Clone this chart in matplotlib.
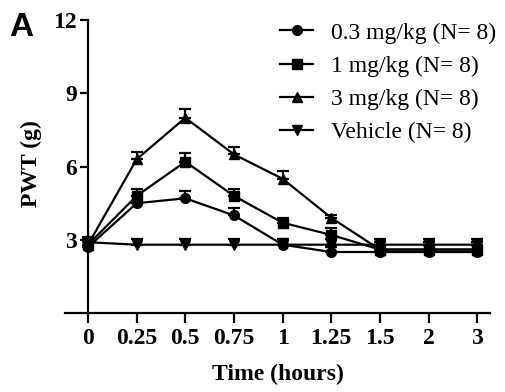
import matplotlib.pyplot as plt
from matplotlib.lines import Line2D
import numpy as np

times = ['0', '0.25', '0.5', '0.75', '1', '1.25', '1.5', '2', '3']
low = [2.7, 4.5, 4.7, 4.0, 2.8, 2.5, 2.5, 2.5, 2.5]
low_err = [0.25, 0.3, 0.3, 0.3, 0.25, 0.2, 0.3, 0.3, 0.3]
mid = [2.8, 4.8, 6.2, 4.8, 3.7, 3.2, 2.6, 2.6, 2.6]
mid_err = [0.25, 0.3, 0.35, 0.3, 0.2, 0.3, 0.3, 0.3, 0.3]
high = [2.8, 6.3, 8.0, 6.5, 5.5, 3.9, 2.6, 2.6, 2.6]
high_err = [0.25, 0.3, 0.35, 0.3, 0.3, 0.1, 0.3, 0.3, 0.3]
vehicle = [2.9, 2.8, 2.8, 2.8, 2.8, 2.8, 2.8, 2.8, 2.8]
vehicle_err = [0.2, 0.25, 0.25, 0.25, 0.25, 0.25, 0.25, 0.25, 0.25]

labels = ['0.3 mg/kg (N= 8)', '1 mg/kg (N= 8)', '3 mg/kg (N= 8)', 'Vehicle (N= 8)']

plt.rcParams['font.family'] = 'Liberation Serif'

fig = plt.figure(figsize=(5.05, 3.92), dpi=100)
ax = fig.add_axes([0.129, 0.2015, 0.842, 0.747])
x = np.arange(len(times))

series = [(low, low_err, 'o'), (mid, mid_err, 's'), (high, high_err, '^'), (vehicle, vehicle_err, 'v')]
handles = []
for (vals, err, m), lab in zip(series, labels):
    ax.errorbar(x, vals, yerr=[np.zeros(len(err)), err], color='black', marker=m,
                markersize=7, linewidth=1.6, elinewidth=1.6, capsize=4, capthick=1.6)
    handles.append(Line2D([], [], color='black', marker=m, markersize=7, linewidth=1.6, label=lab))

ax.set_xlim(-0.47, 8.27)
ax.set_ylim(0, 12)
ax.spines['left'].set_position(('data', 0))
ax.spines['right'].set_visible(False)
ax.spines['top'].set_visible(False)
ax.spines['left'].set_linewidth(1.6)
ax.spines['bottom'].set_linewidth(1.6)
ax.set_xticks(x)
ax.set_xticklabels(times, fontweight='bold', fontsize=17)
ax.set_yticks([3, 6, 9, 12])
ax.set_yticklabels(['3', '6', '9', '12'], fontweight='bold', fontsize=17)
ax.tick_params(axis='x', width=1.6, length=7, pad=3.5)
ax.tick_params(axis='y', width=1.6, length=6, pad=2)

ax.set_xlabel('Time (hours)', fontweight='bold', fontsize=17, labelpad=11)
ax.set_ylabel('PWT (g)', fontweight='bold', fontsize=17)
ax.yaxis.set_label_coords(-0.055, 0.509)

fig.legend(handles=handles, loc='upper left', bbox_to_anchor=(280 / 505, 1 - 22 / 392),
           frameon=False, fontsize=17, handlelength=1.4, labelspacing=0.5,
           handletextpad=0.76, borderpad=0, borderaxespad=0)

fig.text(0.018, 0.97, 'A', fontsize=24, fontweight='bold', family='Liberation Sans', va='top')

fig.savefig('out.png')
